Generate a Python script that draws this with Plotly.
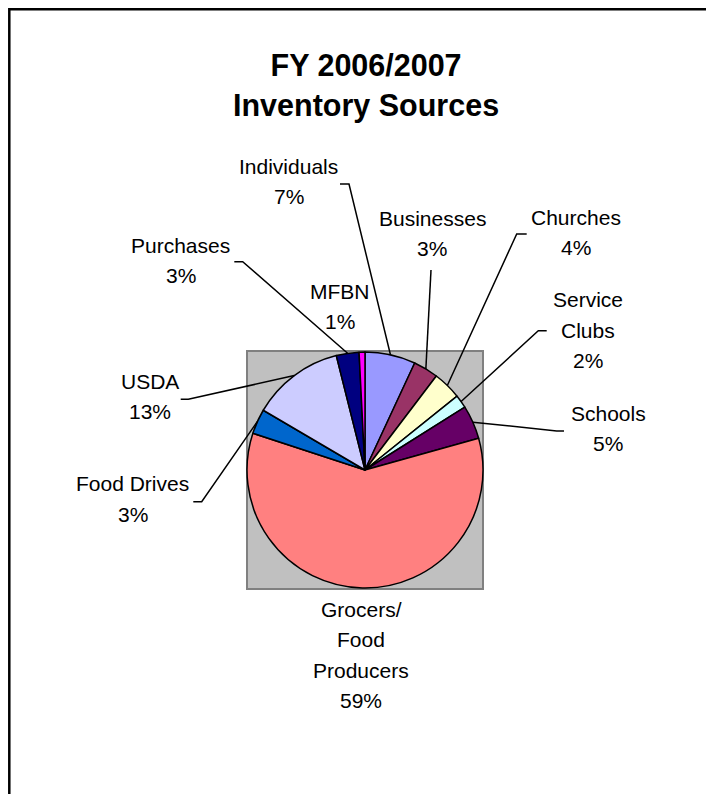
import math
import plotly.graph_objects as go

# ---- data ----
categories = ["Individuals", "Businesses", "Churches", "Service Clubs", "Schools",
              "Grocers/Food Producers", "Food Drives", "USDA", "Purchases", "MFBN"]
values = [6.9, 3.4, 3.9, 1.8, 4.6, 59.2, 3.4, 12.6, 3.1, 0.8]
label_lines = [["Individuals"], ["Businesses"], ["Churches"], ["Service", "Clubs"], ["Schools"],
               ["Grocers/", "Food", "Producers"], ["Food Drives"], ["USDA"], ["Purchases"], ["MFBN"]]
colors = ["#9999FF", "#993366", "#FFFFCC", "#CCFFFF", "#660066",
          "#FF8080", "#0066CC", "#CCCCFF", "#000080", "#FF00FF"]

# ---- layout (screen pixels) ----
W, H = 714, 794
PAGE_OFF = 8  # default body margin of the html page
FONT = "Liberation Sans, Arial, sans-serif"
pie_box = (247, 351, 483, 589)  # x0, y0, x1, y1
# label first-line centre (x, y)
label_xy = [(288.7, 166), (432, 218.3), (575.8, 217), (588, 299.5), (608, 413),
            (361, 609.3), (132.7, 483.7), (150, 381.3), (180.5, 245), (339.5, 291.3)]
LINE_GAP = 30.5
# leader: (start x, start y, elbow x) ; elbow None => straight; None => no leader
leaders = [(340, 184, 349), (431, 270, None), (526.7, 234, 516.7), (546.7, 330.7, 538.3),
           (564, 431, 556.7), None, (193.3, 501.7, 201.7), (180.7, 399.3, 188.3),
           (234.3, 261.7, 242.7), None]


def px(x):
    return (x - PAGE_OFF) / W


def py(y):
    return 1 - (y - PAGE_OFF) / H


x0, y0, x1, y1 = pie_box
cx, cy = (x0 + x1) / 2, (y0 + y1) / 2
r = min(x1 - x0, y1 - y0) / 2

fig = go.Figure(go.Pie(
    labels=categories, values=values, sort=False, direction="clockwise", rotation=0,
    marker=dict(colors=colors, line=dict(color="black", width=1.5)),
    textinfo="none", hoverinfo="label+percent", showlegend=False,
    domain=dict(x=[px(x0), px(x1)], y=[py(y1), py(y0)]),
))

shapes = [
    dict(type="rect", xref="paper", yref="paper", x0=px(x0), x1=px(x1), y0=py(y1), y1=py(y0),
         fillcolor="#C0C0C0", line=dict(color="#808080", width=2), layer="below"),
    dict(type="rect", xref="paper", yref="paper", x0=px(9.3), x1=px(W + 40), y0=py(H + 40), y1=py(9.3),
         fillcolor="rgba(0,0,0,0)", line=dict(color="black", width=2.5), layer="above"),
]

annotations = [dict(text="<b>FY 2006/2007<br>Inventory Sources</b>", x=px(365.5), y=py(85),
                    xref="paper", yref="paper", xanchor="center", yanchor="middle",
                    showarrow=False, font=dict(family=FONT, size=30.5, color="black"))]

total = sum(values)
cum = 0.0
for i, v in enumerate(values):
    mid = (cum + v / 2) / total * 2 * math.pi
    cum += v
    ex, ey = cx + r * math.sin(mid), cy - r * math.cos(mid)
    pct = f"{round(v / total * 100)}%"
    lines = label_lines[i] + [pct]
    lx, ly = label_xy[i]
    for k, t in enumerate(lines):
        annotations.append(dict(text=t, x=px(lx), y=py(ly + k * LINE_GAP), xref="paper", yref="paper",
                                xanchor="center", yanchor="middle", showarrow=False,
                                font=dict(family=FONT, size=21, color="black")))
    ld = leaders[i]
    if ld is not None:
        sx, sy, elx = ld
        pts = [(sx, sy)]
        if elx is not None:
            pts.append((elx, sy))
        pts.append((ex, ey))
        path = "M " + " L ".join(f"{px(a):.5f},{py(b):.5f}" for a, b in pts)
        shapes.append(dict(type="path", xref="paper", yref="paper", path=path,
                           line=dict(color="black", width=1.5), layer="above"))

fig.update_layout(width=W, height=H, margin=dict(l=0, r=0, t=0, b=0),
                  paper_bgcolor="white", plot_bgcolor="white",
                  shapes=shapes, annotations=annotations)

fig.write_html("out.html")
